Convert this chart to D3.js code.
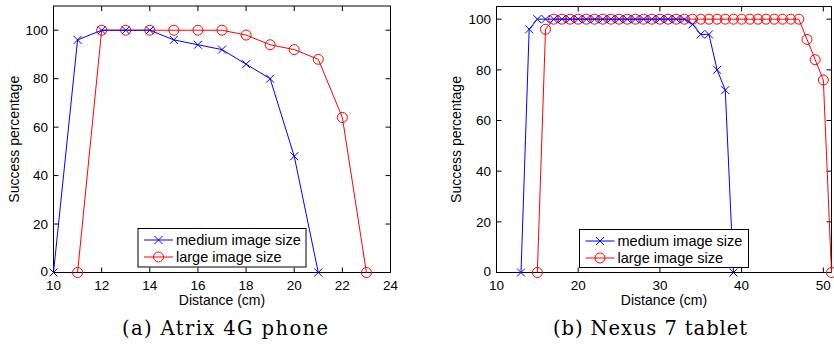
<!DOCTYPE html>
<html>
<head>
<meta charset="utf-8">
<script src="https://cdn.jsdelivr.net/npm/d3@7"></script>
<style>
  body { margin: 0; background: #fff; }
  svg { display: block; }
  text { font-family: "Liberation Sans", Arial, sans-serif; }
  .caption { font-family: "DejaVu Serif", "Liberation Serif", serif; }
</style>
</head>
<body>
<svg width="834" height="344"></svg>
<script>
// (a) Atrix 4G phone
var atrixMediumX = [10, 11, 12, 13, 14, 15, 16, 17, 18, 19, 20, 21];
var atrixMediumY = [0, 96, 100, 100, 100, 96, 94, 92, 86, 80, 48, 0];
var atrixLargeX = [11, 12, 13, 14, 15, 16, 17, 18, 19, 20, 21, 22, 23];
var atrixLargeY = [0, 100, 100, 100, 100, 100, 100, 98, 94, 92, 88, 64, 0];
var atrixXTicks = [10, 12, 14, 16, 18, 20, 22, 24];

// (b) Nexus 7 tablet
var nexusMediumX = [13, 14, 15, 16, 17, 18, 19, 20, 21, 22, 23, 24, 25, 26, 27, 28, 29, 30, 31, 32, 33, 34, 35, 36, 37, 38, 39];
var nexusMediumY = [0, 96, 100, 100, 100, 100, 100, 100, 100, 100, 100, 100, 100, 100, 100, 100, 100, 100, 100, 100, 100, 98, 94, 94, 80, 72, 0];
var nexusLargeX = [15, 16, 17, 18, 19, 20, 21, 22, 23, 24, 25, 26, 27, 28, 29, 30, 31, 32, 33, 34, 35, 36, 37, 38, 39, 40, 41, 42, 43, 44, 45, 46, 47, 48, 49, 50, 51];
var nexusLargeY = [0, 96, 100, 100, 100, 100, 100, 100, 100, 100, 100, 100, 100, 100, 100, 100, 100, 100, 100, 100, 100, 100, 100, 100, 100, 100, 100, 100, 100, 100, 100, 100, 100, 92, 84, 76, 0];
var nexusXTicks = [10, 20, 30, 40, 50];

var yTicks = [0, 20, 40, 60, 80, 100];
var seriesNames = ["medium image size", "large image size"];

var svg = d3.select("svg");

function zip(xs, ys) {
  return xs.map(function(x, i) { return [x, ys[i]]; });
}

function cross(cx, cy, r) {
  return "M" + (cx - r) + "," + (cy - r) + "L" + (cx + r) + "," + (cy + r) +
         "M" + (cx - r) + "," + (cy + r) + "L" + (cx + r) + "," + (cy - r);
}

function drawPanel(p) {
  var g = svg.append("g");
  var x = d3.scaleLinear().domain(p.xDomain).range([p.left, p.right]);
  var y = d3.scaleLinear().domain(p.yDomain).range([p.bottom, p.top]);
  var tl = 5;

  // frame
  g.append("rect")
    .attr("x", p.left).attr("y", p.top)
    .attr("width", p.right - p.left).attr("height", p.bottom - p.top)
    .attr("fill", "none").attr("stroke", "#000").attr("stroke-width", 1);

  // inward ticks on all four sides, matlab style
  p.xTicks.forEach(function(t) {
    var px = x(t);
    g.append("line").attr("x1", px).attr("x2", px).attr("y1", p.bottom).attr("y2", p.bottom - tl).attr("stroke", "#000");
    g.append("line").attr("x1", px).attr("x2", px).attr("y1", p.top).attr("y2", p.top + tl).attr("stroke", "#000");
    g.append("text").attr("x", px).attr("y", p.bottom + 17)
      .attr("text-anchor", "middle").attr("font-size", 13.5).text(t);
  });
  yTicks.forEach(function(t) {
    var py = y(t);
    g.append("line").attr("x1", p.left).attr("x2", p.left + tl).attr("y1", py).attr("y2", py).attr("stroke", "#000");
    g.append("line").attr("x1", p.right).attr("x2", p.right - tl).attr("y1", py).attr("y2", py).attr("stroke", "#000");
    g.append("text").attr("x", p.left - 5.5).attr("y", py + (t === 0 ? 3.5 : 4.8))
      .attr("text-anchor", "end").attr("font-size", 13.5).text(t);
  });

  g.append("text")
    .attr("x", (p.left + p.right) / 2).attr("y", p.bottom + 32)
    .attr("text-anchor", "middle").attr("font-size", 14).text("Distance (cm)");
  g.append("text")
    .attr("transform", "translate(" + p.yTitleX + "," + ((p.top + p.bottom) / 2) + ") rotate(-90)")
    .attr("text-anchor", "middle").attr("font-size", 14).text("Success percentage");

  g.append("text").attr("class", "caption")
    .attr("x", p.captionX).attr("y", 334.5)
    .attr("text-anchor", "middle").attr("font-size", 19.5)
    .attr("textLength", p.captionW).attr("lengthAdjust", "spacing")
    .text(p.caption);

  var line = d3.line().x(function(d) { return x(d[0]); }).y(function(d) { return y(d[1]); });

  var plot = g.append("g");
  var med = zip(p.medX, p.medY), lrg = zip(p.lrgX, p.lrgY);

  plot.append("path").datum(lrg).attr("d", line).attr("fill", "none").attr("stroke", "#ff0000").attr("stroke-width", 1);
  plot.selectAll(".circ").data(lrg).enter().append("circle")
    .attr("cx", function(d) { return x(d[0]); })
    .attr("cy", function(d) { return y(d[1]); })
    .attr("r", 5).attr("fill", "none").attr("stroke", "#ff0000").attr("stroke-width", 1);

  plot.append("path").datum(med).attr("d", line).attr("fill", "none").attr("stroke", "#0000ff").attr("stroke-width", 1);
  plot.selectAll(".cross").data(med).enter().append("path")
    .attr("d", function(d) { return cross(x(d[0]), y(d[1]), 4); })
    .attr("fill", "none").attr("stroke", "#0000ff").attr("stroke-width", 1);

  // legend
  var lg = g.append("g");
  lg.append("rect").attr("x", p.legend[0]).attr("y", p.legend[1])
    .attr("width", p.legend[2]).attr("height", p.legend[3])
    .attr("fill", "#fff").attr("stroke", "#000").attr("stroke-width", 1);
  var lx0 = p.legend[0] + 6, lx1 = p.legend[0] + 35;
  var rows = [p.legend[1] + 11.5, p.legend[1] + 28.5];
  lg.append("line").attr("x1", lx0).attr("x2", lx1).attr("y1", rows[0]).attr("y2", rows[0]).attr("stroke", "#0000ff");
  lg.append("path").attr("d", cross((lx0 + lx1) / 2, rows[0], 4)).attr("stroke", "#0000ff").attr("fill", "none");
  lg.append("line").attr("x1", lx0).attr("x2", lx1).attr("y1", rows[1]).attr("y2", rows[1]).attr("stroke", "#ff0000");
  lg.append("circle").attr("cx", (lx0 + lx1) / 2).attr("cy", rows[1]).attr("r", 5).attr("stroke", "#ff0000").attr("fill", "none");
  seriesNames.forEach(function(s, i) {
    lg.append("text").attr("x", lx1 + 3).attr("y", rows[i] + 5).attr("font-size", 14.5).text(s);
  });
}

drawPanel({
  left: 53.5, right: 390.5, top: 6, bottom: 272.5,
  xDomain: [10, 24], yDomain: [0, 110], xTicks: atrixXTicks,
  medX: atrixMediumX, medY: atrixMediumY, lrgX: atrixLargeX, lrgY: atrixLargeY,
  legend: [138, 228.5, 168, 38.5],
  yTitleX: 19, caption: "(a) Atrix 4G phone", captionX: 225, captionW: 206
});

drawPanel({
  left: 496.5, right: 831.5, top: 6.5, bottom: 272.5,
  xDomain: [10, 51], yDomain: [0, 105], xTicks: nexusXTicks,
  medX: nexusMediumX, medY: nexusMediumY, lrgX: nexusLargeX, lrgY: nexusLargeY,
  legend: [579.5, 229.5, 169, 38],
  yTitleX: 461, caption: "(b) Nexus 7 tablet", captionX: 650, captionW: 194
});
</script>
</body>
</html>
